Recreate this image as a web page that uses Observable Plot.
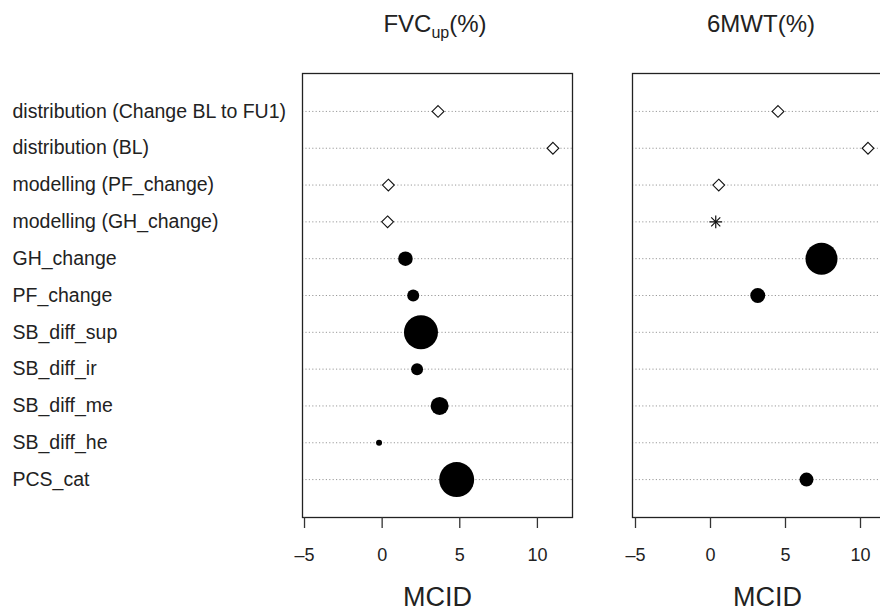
<!DOCTYPE html>
<html>
<head>
<meta charset="utf-8">
<script src="https://cdn.jsdelivr.net/npm/d3@7"></script>
<script src="https://cdn.jsdelivr.net/npm/@observablehq/plot@0.6"></script>
<style>
  html, body { margin: 0; padding: 0; background: #fff; }
  #wrap { position: relative; width: 880px; height: 612px; overflow: hidden; font-family: "Liberation Sans", Arial, sans-serif; }
  .panel { position: absolute; top: 0; }
  .ptitle { position: absolute; top: 10px; font-size: 24px; line-height: 28px; color: #222; white-space: nowrap; transform: translateX(-50%); }
  .ptitle sub { font-size: 16px; vertical-align: -6px; line-height: 0; }
</style>
</head>
<body>
<div id="wrap"></div>
<script>
// ---- data ----
const rows = [
  "distribution (Change BL to FU1)",
  "distribution (BL)",
  "modelling (PF_change)",
  "modelling (GH_change)",
  "GH_change",
  "PF_change",
  "SB_diff_sup",
  "SB_diff_ir",
  "SB_diff_me",
  "SB_diff_he",
  "PCS_cat"
];
// marker kind per row: "diamond" open, "asterisk", "circle" filled (weighted)
const fvcKind  = ["diamond","diamond","diamond","diamond","circle","circle","circle","circle","circle","circle","circle"];
const fvcMCID  = [3.6, 11.0, 0.4, 0.35, 1.5, 2.0, 2.5, 2.25, 3.7, -0.2, 4.8];
const fvcWeight= [null, null, null, null, 53, 36, 289, 36, 81, 9, 306];

const mwtKind  = ["diamond","diamond","diamond","asterisk","circle","circle",null,null,null,null,"circle"];
const mwtMCID  = [4.5, 10.5, 0.55, 0.35, 7.4, 3.15, null, null, null, null, 6.4];
const mwtWeight= [null, null, null, null, 256, 56, null, null, null, null, 49];

const xTicks = [-5, 0, 5, 10];
const xLabel = "MCID";

function buildData(kind, mcid, weight) {
  return rows.map((r, i) => ({row: r, kind: kind[i], mcid: mcid[i], weight: weight[i]}))
             .filter(d => d.kind != null && d.mcid != null);
}

function panel({data, domain, width, marginLeft, marginRight, showRows}) {
  const ast = data.filter(d => d.kind === "asterisk");
  const marks = [
    Plot.ruleY(rows, {y: d => d, stroke: "#9a9a9a", strokeDasharray: "1.2,2.2", strokeWidth: 1}),
    Plot.frame({stroke: "#222", strokeWidth: 1.3}),
    Plot.axisX({ticks: xTicks, tickSize: 11, tickPadding: 20, fontSize: 18, fill: "#222", stroke: "#333", strokeWidth: 1.3, label: null, tickFormat: d => d < 0 ? "\u2013" + Math.abs(d) : String(d)}),
    Plot.text([xLabel], {frameAnchor: "bottom", lineAnchor: "middle", dy: 80, fontSize: 27, fill: "#222"}),
    Plot.dot(data.filter(d => d.kind === "circle"), {x: "mcid", y: "row", r: "weight", fill: "black", stroke: "none"}),
    Plot.dot(data.filter(d => d.kind === "diamond"), {x: "mcid", y: "row", symbol: "diamond2", r: 5.3, fill: "white", stroke: "#111", strokeWidth: 1.1}),
    Plot.dot(ast, {x: "mcid", y: "row", symbol: "plus", r: 4.2, stroke: "#111", strokeWidth: 1.2}),
    Plot.dot(ast, {x: "mcid", y: "row", symbol: "times", r: 4.2, stroke: "#111", strokeWidth: 1.2})
  ];
  if (showRows) {
    marks.push(Plot.text(rows, {y: d => d, frameAnchor: "left", textAnchor: "start", dx: -marginLeft + 12, fontSize: 19.5, fill: "#222"}));
  }
  return Plot.plot({
    width, height: 612,
    marginLeft, marginRight, marginTop: 73, marginBottom: 95,
    style: {fontFamily: "'Liberation Sans', Arial, sans-serif", background: "transparent", overflow: "visible"},
    x: {domain, axis: null},
    y: {type: "point", domain: rows, padding: 1.03, round: false, axis: null},
    r: {type: "sqrt", domain: [0, 306], range: [0, 17.5]},
    marks
  });
}

const wrap = document.getElementById("wrap");

const p1 = panel({data: buildData(fvcKind, fvcMCID, fvcWeight), domain: [-5.13, 12.26], width: 600, marginLeft: 302, marginRight: 28, showRows: true});
p1.classList.add("panel"); p1.style.left = "0px";
wrap.appendChild(p1);

const p2 = panel({data: buildData(mwtKind, mwtMCID, mwtWeight), domain: [-5.2, 12.8], width: 310, marginLeft: 32, marginRight: 8, showRows: false});
p2.classList.add("panel"); p2.style.left = "600px";
wrap.appendChild(p2);

const t1 = document.createElement("div");
t1.className = "ptitle"; t1.style.left = "435px";
t1.innerHTML = "FVC<sub>up</sub>(%)";
wrap.appendChild(t1);

const t2 = document.createElement("div");
t2.className = "ptitle"; t2.style.left = "761px";
t2.textContent = "6MWT(%)";
wrap.appendChild(t2);
</script>
</body>
</html>
